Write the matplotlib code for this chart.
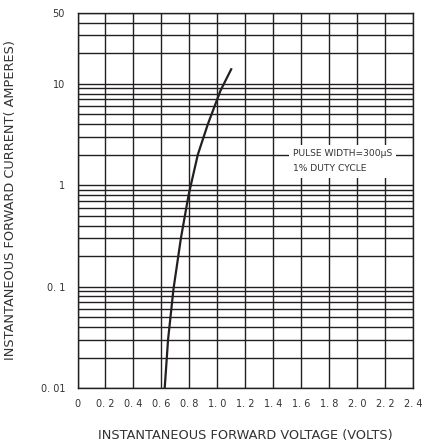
import numpy as np
import matplotlib
matplotlib.use('Agg')
import matplotlib.pyplot as plt
from matplotlib.ticker import FixedLocator, LogLocator, NullFormatter

# forward characteristic
voltage = [0.624, 0.648, 0.687, 0.74, 0.795, 0.861, 0.933, 1.024, 1.10]
current = [0.01, 0.03, 0.095, 0.3, 0.8, 2.0, 4.0, 8.6, 13.9]

x_ticks = [0, 0.2, 0.4, 0.6, 0.8, 1.0, 1.2, 1.4, 1.6, 1.8, 2.0, 2.2, 2.4]
x_labels = ['0', '0. 2', '0. 4', '0. 6', '0. 8', '1. 0', '1. 2', '1. 4', '1. 6',
            '1. 8', '2. 0', '2. 2', '2. 4']
y_ticks = [0.01, 0.1, 1, 10, 50]
y_labels = ['0. 01', '0. 1', '1', '10', '50']

ink = '#231f20'
txt = '#333333'
plt.rcParams['font.family'] = ['DejaVu Sans']

fig = plt.figure(figsize=(4.26, 4.44), dpi=100)
ax = fig.add_axes([0.182, 0.126, 0.787, 0.845])

ax.set_yscale('log')
ax.set_xlim(0, 2.4)
ax.set_ylim(0.01, 50)

ax.xaxis.set_major_locator(FixedLocator(x_ticks))
ax.set_xticklabels(x_labels)
ax.yaxis.set_major_locator(FixedLocator(y_ticks))
ax.set_yticklabels(y_labels)
ax.yaxis.set_minor_locator(LogLocator(base=10, subs=np.arange(2, 10)))
ax.yaxis.set_minor_formatter(NullFormatter())

ax.tick_params(which='both', length=0, labelsize=7, colors=txt)
ax.tick_params(axis='x', pad=8)
ax.tick_params(axis='y', pad=9)

ax.grid(True, which='major', axis='x', color=ink, linewidth=1.0)
ax.grid(True, which='both', axis='y', color=ink, linewidth=1.0)
for s in ax.spines.values():
    s.set_color(ink)
    s.set_linewidth(1.0)

ax.plot(voltage, current, color=ink, linewidth=1.6, zorder=3)

ax.text(1.54, 1.72, 'PULSE WIDTH=300\u03bcS\n1% DUTY CYCLE', fontsize=6.6,
        color=txt, ha='left', va='center', linespacing=1.9, zorder=4,
        bbox=dict(boxstyle='square,pad=0.45', facecolor='white', edgecolor='none'))

ax.set_xlabel('INSTANTANEOUS FORWARD VOLTAGE (VOLTS)', fontsize=9.3,
              color=txt, labelpad=14)
ax.set_ylabel('INSTANTANEOUS FORWARD CURRENT( AMPERES)', fontsize=9.3,
              color=txt, labelpad=17)

fig.savefig('out.png', dpi=100)
